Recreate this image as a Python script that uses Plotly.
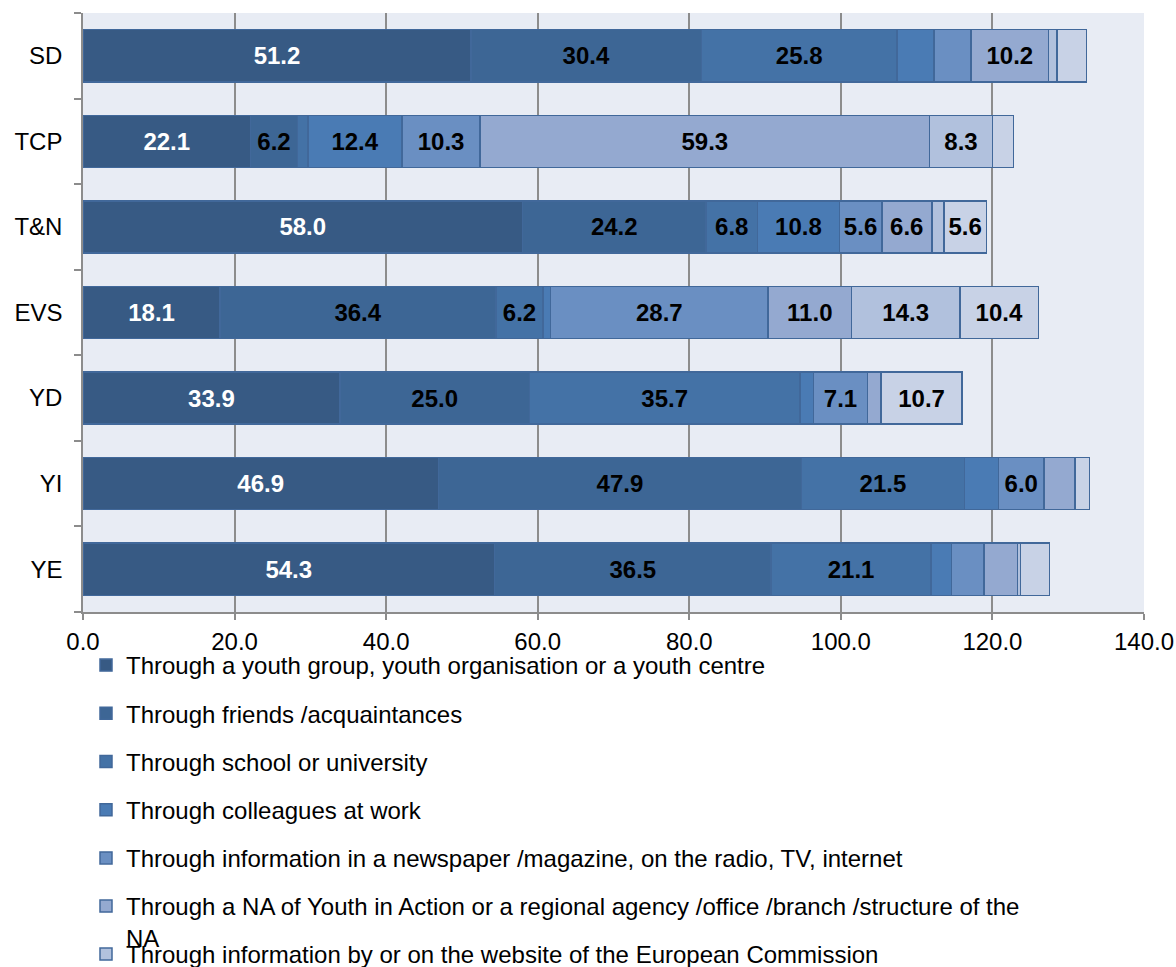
import plotly.graph_objects as go

categories = ["SD", "TCP", "T&N", "EVS", "YD", "YI", "YE"]

series_names = [
    "Through a youth group, youth organisation or a youth centre",
    "Through friends /acquaintances",
    "Through school or university",
    "Through colleagues at work",
    "Through information in a newspaper /magazine, on the radio, TV, internet",
    "Through a NA of Youth in Action or a regional agency /office /branch /structure of the<br>NA",
    "Through information by or on the website of the European Commission",
    "Other",
]

youth_group = [51.2, 22.1, 58.0, 18.1, 33.9, 46.9, 54.3]
friends = [30.4, 6.2, 24.2, 36.4, 25.0, 47.9, 36.5]
school = [25.8, 1.4, 6.8, 6.2, 35.7, 21.5, 21.1]
colleagues = [4.9, 12.4, 10.8, 1.0, 1.8, 4.5, 2.7]
newspaper = [4.9, 10.3, 5.6, 28.7, 7.1, 6.0, 4.3]
national_agency = [10.2, 59.3, 6.6, 11.0, 1.8, 4.1, 4.4]
european_commission = [1.1, 8.3, 1.6, 14.3, 0.0, 0.0, 0.4]
other = [3.9, 2.8, 5.6, 10.4, 10.7, 1.9, 3.8]

series_values = [youth_group, friends, school, colleagues, newspaper,
                 national_agency, european_commission, other]

x_tick_values = [0, 20, 40, 60, 80, 100, 120, 140]
x_tick_labels = ["0.0", "20.0", "40.0", "60.0", "80.0", "100.0", "120.0", "140.0"]

colors = ["#375a84", "#3d6695", "#4472a6", "#4a7bb4",
          "#6a8fc2", "#94a9d0", "#b1c1dd", "#c8d2e6"]
label_colors = ["white"] + ["black"] * 7
legends = ["legend"] * 6 + ["legend2"] * 2

FONT = "Arial, Liberation Sans, sans-serif"
FS = 24
W, H = 1176, 967

fig = go.Figure()
for i, (name, vals) in enumerate(zip(series_names, series_values)):
    fig.add_trace(go.Bar(
        y=categories,
        x=vals,
        name=name,
        orientation="h",
        legendgroup="g%d" % i,
        legend=legends[i],
        marker=dict(color=colors[i], line=dict(color="#41689a", width=1.5)),
        text=[("%.1f" % v) if v >= 5 else "" for v in vals],
        textposition="inside",
        insidetextanchor="middle",
        textangle=0,
        textfont=dict(family=FONT, size=FS, color=label_colors[i], weight="bold"),
    ))

legend_common = dict(
    xref="container", yref="container",
    xanchor="left", yanchor="top",
    traceorder="grouped", tracegroupgap=14,
    valign="top",
    bgcolor="rgba(0,0,0,0)",
    font=dict(family=FONT, size=FS, color="black"),
)

fig.update_layout(
    width=W,
    height=H,
    barmode="stack",
    bargap=0.39,
    paper_bgcolor="white",
    plot_bgcolor="#e8ecf4",
    font=dict(family=FONT, size=FS, color="black"),
    margin=dict(l=83, r=32, t=13, b=355, autoexpand=False),
    uniformtext=dict(minsize=FS, mode="show"),
    showlegend=True,
    legend=dict(x=86 / W, y=1 - 643 / H, **legend_common),
    legend2=dict(x=86 / W, y=1 - 932 / H, **legend_common),
)

fig.update_xaxes(
    range=[0, 140],
    tickvals=x_tick_values,
    ticktext=x_tick_labels,
    showgrid=True, gridcolor="#8c8c8c", gridwidth=1.5,
    showline=True, linecolor="#8c8c8c", linewidth=1.5,
    ticks="outside", ticklen=6, tickcolor="#8c8c8c", tickwidth=1.5,
    ticklabelstandoff=1,
    zeroline=False,
)
fig.update_yaxes(
    categoryorder="array",
    categoryarray=categories[::-1],
    showgrid=False,
    showline=True, linecolor="#8c8c8c", linewidth=1.5,
    ticks="outside", ticklen=7, tickcolor="#8c8c8c", tickwidth=1.5,
    tickson="boundaries",
    ticklabelstandoff=14,
)

fig.write_html(
    "out.html",
    config={"displayModeBar": False},
    post_script="document.body.style.margin='0';document.body.style.overflow='hidden';",
)
